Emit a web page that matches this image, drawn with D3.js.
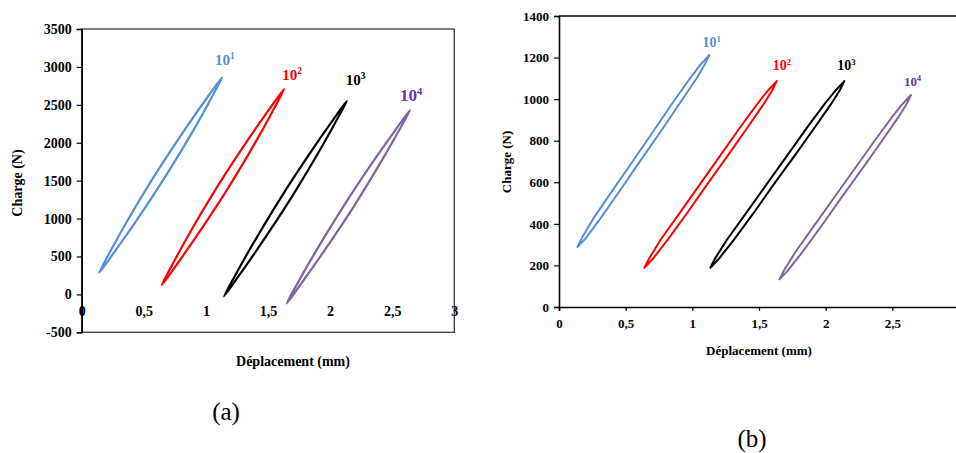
<!DOCTYPE html>
<html><head><meta charset="utf-8">
<script src="https://cdn.jsdelivr.net/npm/d3@7"></script>
<style>
html,body{margin:0;padding:0;background:#fff;}
svg{display:block;}
svg text{font-family:"Liberation Serif","Times New Roman",serif !important;}
</style></head>
<body><svg id="c" width="956" height="453"></svg>
<script>
// ---------- DATA ----------
const seriesNames = ["10", "10", "10", "10"];
const seriesExp = ["1", "2", "3", "4"];
const seriesColors = ["#558ED5", "#FF0000", "#000000", "#8064A2"];
const labelColors = ["#558ED5", "#FF0000", "#000000", "#7030A0"];

const xTicks = [0, 0.5, 1, 1.5, 2, 2.5, 3];
const xTicksB = [0, 0.5, 1, 1.5, 2, 2.5];
const yTicksA = [-500, 0, 500, 1000, 1500, 2000, 2500, 3000, 3500];
const yTicksB = [0, 200, 400, 600, 800, 1000, 1200, 1400];

// (a) loops: closed path, bottom tip -> upper branch -> top tip -> lower branch
const loopA1 = [[0.14,285],[0.222,543],[0.353,929],[0.589,1573],[0.848,2216],[1.014,2603],[1.13,2860],
                [1.048,2603],[0.918,2216],[0.681,1573],[0.423,929],[0.256,543]];
const loopA2 = [[0.645,125],[0.727,384],[0.856,771],[1.091,1418],[1.349,2064],[1.515,2452],[1.63,2710],
                [1.549,2452],[1.419,2064],[1.185,1418],[0.926,771],[0.761,384]];
const loopA3 = [[1.146,-25],[1.230,233],[1.362,619],[1.599,1264],[1.857,1908],[2.021,2294],[2.135,2552],
                [2.051,2294],[1.919,1908],[1.683,1264],[1.424,619],[1.260,233]];
const loopA4 = [[1.65,-120],[1.734,135],[1.867,518],[2.105,1155],[2.364,1793],[2.529,2175],[2.643,2430],
                [2.559,2175],[2.426,1793],[2.189,1155],[1.929,518],[1.764,135]];

// (b) loops
const loopB1 = [[0.137,288],[0.173,334],[0.262,430],[0.407,566],[0.558,706],[0.705,843],[0.854,984],[0.987,1104],[1.064,1168],[1.128,1213],
                [1.092,1165],[1.031,1099],[0.906,980],[0.759,841],[0.608,702],[0.461,564],[0.310,425],[0.201,331]];
const loopB2 = [[0.64,189],[0.676,234],[0.765,326],[0.911,458],[1.062,595],[1.209,728],[1.359,865],[1.492,981],[1.569,1043],[1.633,1087],
                [1.597,1040],[1.536,977],[1.411,861],[1.263,726],[1.112,591],[0.965,456],[0.813,322],[0.704,232]];
const loopB3 = [[1.135,189],[1.171,234],[1.262,326],[1.410,458],[1.562,595],[1.711,728],[1.863,865],[1.997,981],[2.076,1043],[2.14,1087],
                [2.104,1040],[2.041,977],[1.915,861],[1.765,726],[1.612,591],[1.464,456],[1.310,322],[1.199,232]];
const loopB4 = [[1.653,133],[1.688,177],[1.777,268],[1.922,399],[2.072,534],[2.218,665],[2.367,800],[2.500,916],[2.577,977],[2.64,1020],
                [2.605,974],[2.544,912],[2.419,796],[2.272,663],[2.122,530],[1.976,397],[1.825,264],[1.716,175]];

const loopsA = [loopA1, loopA2, loopA3, loopA4];
const loopsB = [loopB1, loopB2, loopB3, loopB4];
const tipIndexA = 6, tipIndexB = 9;

// ---------- DRAW ----------
const svg = d3.select("#c");
const fmt = d => String(d).replace(".", ",");
const FONT = "Liberation Serif, Times New Roman, serif";

function labelSeries(g, x, y, loops, tipIdx, offsets, sizes) {
  loops.forEach((lp, i) => {
    const tip = lp[tipIdx];
    const t = g.append("text")
      .attr("x", x(tip[0]) + offsets[i][0])
      .attr("y", y(tip[1]) + offsets[i][1])
      .attr("fill", labelColors[i])
      .attr("font-weight", "bold")
      .attr("font-size", sizes[i]);
    t.append("tspan").text(seriesNames[i]);
    t.append("tspan").attr("font-size", sizes[i] * 0.62).attr("dy", -sizes[i] * 0.38).text(seriesExp[i]);
  });
}

// ===== Chart (a) =====
{
  const x = d3.scaleLinear().domain([0, 3]).range([81.7, 454.3]);
  const y = d3.scaleLinear().domain([-500, 3500]).range([332.3, 29]);
  const g = svg.append("g");

  g.append("rect").attr("x", x(0)).attr("y", y(3500))
    .attr("width", x(3) - x(0)).attr("height", y(-500) - y(3500))
    .attr("fill", "none").attr("stroke", "#3a3a3a").attr("stroke-width", 1.3);

  const ya = g.append("g").attr("transform", `translate(${x(0)},0)`)
    .call(d3.axisLeft(y).tickValues(yTicksA).tickFormat(d => String(d)).tickSize(5).tickPadding(5));
  ya.attr("font-family", FONT);
  ya.select(".domain").attr("stroke", "#000").attr("stroke-width", 1.6);
  ya.selectAll(".tick line").attr("stroke", "#000").attr("stroke-width", 1.2);
  ya.selectAll("text").attr("font-weight", "bold").attr("font-size", 14).attr("fill", "#000");

  const xa = g.append("g").attr("transform", `translate(0,${y(0)})`)
    .call(d3.axisBottom(x).tickValues(xTicks).tickFormat(fmt).tickSize(0).tickPadding(12));
  xa.attr("font-family", FONT);
  xa.select(".domain").remove();
  xa.selectAll("text").attr("font-weight", "bold").attr("font-size", 14).attr("fill", "#000");

  const line = d3.line().x(d => x(d[0])).y(d => y(d[1])).curve(d3.curveCatmullRomClosed.alpha(0.5));
  loopsA.forEach((lp, i) => {
    g.append("path").attr("d", line(lp)).attr("fill", "none")
      .attr("stroke", seriesColors[i]).attr("stroke-width", 2.2).attr("stroke-linejoin", "round");
  });

  labelSeries(g, x, y, loopsA, tipIndexA, [[-7,-13],[-2,-9],[-1,-16],[-10,-9]], [15, 15, 15, 17]);

  g.append("text").attr("x", 293).attr("y", 366).attr("text-anchor", "middle")
    .attr("font-weight", "bold").attr("font-size", 14).text("Déplacement (mm)");
  g.append("text").attr("transform", "translate(22,183) rotate(-90)").attr("text-anchor", "middle")
    .attr("font-weight", "bold").attr("font-size", 14).text("Charge (N)");
  g.append("text").attr("x", 226).attr("y", 420).attr("text-anchor", "middle")
    .attr("font-size", 25).text("(a)");
}

// ===== Chart (b) =====
{
  const x = d3.scaleLinear().domain([0, 3]).range([559, 959]);
  const y = d3.scaleLinear().domain([0, 1400]).range([307, 16]);
  const g = svg.append("g");

  g.append("line").attr("x1", x(0)).attr("x2", x(3)).attr("y1", y(1400)).attr("y2", y(1400))
    .attr("stroke", "#000").attr("stroke-width", 1.5);

  const ya = g.append("g").attr("transform", `translate(${x(0)},0)`)
    .call(d3.axisLeft(y).tickValues(yTicksB).tickFormat(d => String(d)).tickSize(5).tickPadding(5));
  ya.attr("font-family", FONT);
  ya.select(".domain").attr("stroke", "#000").attr("stroke-width", 1.6);
  ya.selectAll(".tick line").attr("stroke", "#000").attr("stroke-width", 1.2);
  ya.selectAll("text").attr("font-weight", "bold").attr("font-size", 13).attr("fill", "#000");

  const xa = g.append("g").attr("transform", `translate(0,${y(0)})`)
    .call(d3.axisBottom(x).tickValues(xTicksB).tickFormat(fmt).tickSize(4).tickPadding(8));
  xa.attr("font-family", FONT);
  xa.select(".domain").attr("stroke", "#000").attr("stroke-width", 1.6);
  xa.selectAll(".tick line").attr("stroke", "#000").attr("stroke-width", 1.2);
  xa.selectAll("text").attr("font-weight", "bold").attr("font-size", 13).attr("fill", "#000");

  const line = d3.line().x(d => x(d[0])).y(d => y(d[1])).curve(d3.curveLinearClosed);
  loopsB.forEach((lp, i) => {
    g.append("path").attr("d", line(lp)).attr("fill", "none")
      .attr("stroke", seriesColors[i]).attr("stroke-width", 2).attr("stroke-linejoin", "round");
  });

  labelSeries(g, x, y, loopsB, tipIndexB, [[-7,-8],[-4,-11],[-7,-11],[-7,-9]], [14, 14, 14, 13]);

  g.append("text").attr("x", 759).attr("y", 355).attr("text-anchor", "middle")
    .attr("font-weight", "bold").attr("font-size", 13).text("Déplacement (mm)");
  g.append("text").attr("transform", "translate(511,162) rotate(-90)").attr("text-anchor", "middle")
    .attr("font-weight", "bold").attr("font-size", 13).text("Charge (N)");
  g.append("text").attr("x", 752).attr("y", 447).attr("text-anchor", "middle")
    .attr("font-size", 25).text("(b)");
}
</script></body></html>
